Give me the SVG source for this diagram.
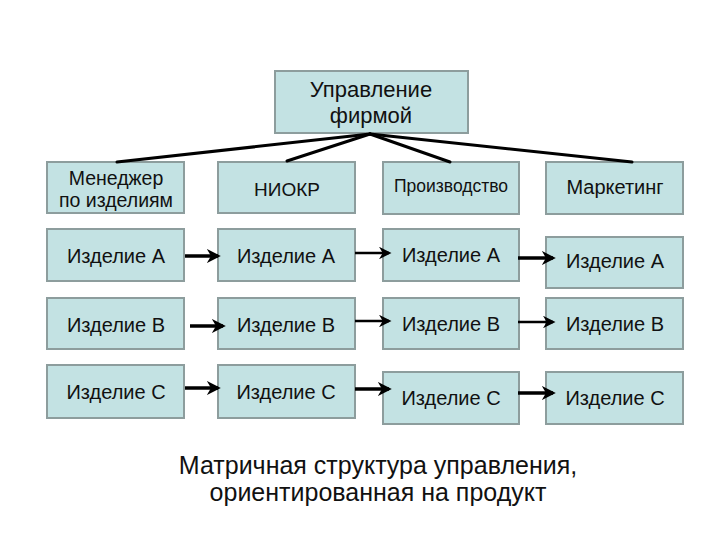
<svg xmlns="http://www.w3.org/2000/svg" width="720" height="540" viewBox="0 0 720 540">
<defs>
<style>
.box{fill:#c3e2e3;stroke:#8d9d9d;stroke-width:2}
.t{font-family:"Liberation Sans",Arial,sans-serif;fill:#111;text-anchor:middle}
.f20{font-size:20px}
.tree{stroke:#000;stroke-width:3;fill:none;stroke-linecap:round}
.ar{stroke:#000;fill:none}
</style>
<marker id="ah" viewBox="0 0 10 10" refX="8" refY="5" markerWidth="4" markerHeight="4" markerUnits="strokeWidth" orient="auto">
<path d="M0,0 L10,5 L0,10 L3,5 Z" fill="#000"/>
</marker>
<marker id="ah2" viewBox="0 0 10 10" refX="8" refY="5" markerWidth="5" markerHeight="5" markerUnits="strokeWidth" orient="auto">
<path d="M0,0 L10,5 L0,10 L3,5 Z" fill="#000"/>
</marker>
</defs>
<rect width="720" height="540" fill="#fff"/>
<g id="top">
<rect class="box" x="275" y="71" width="193" height="62"/>
<text class="t" font-size="22" x="371" y="97">Управление</text>
<text class="t" font-size="22" x="371" y="123">фирмой</text>
</g>
<g id="manager">
<rect class="box" x="47" y="162" width="137" height="51"/>
<text class="t" font-size="19.5" x="116" y="185">Менеджер</text>
<text class="t" font-size="19.5" x="116" y="207">по изделиям</text>
</g>
<g id="niokr">
<rect class="box" x="218" y="162" width="137" height="51"/>
<text class="t" font-size="19" x="287" y="196">НИОКР</text>
</g>
<g id="prod">
<rect class="box" x="383" y="162" width="136" height="52"/>
<text class="t" font-size="17.5" x="451" y="192">Производство</text>
</g>
<g id="mark">
<rect class="box" x="546" y="162" width="137" height="52"/>
<text class="t f20" x="615" y="194">Маркетинг</text>
</g>
<g id="a1"><rect class="box" x="47" y="229" width="137" height="52"/><text class="t f20" x="116" y="263">Изделие А</text></g>
<g id="a2"><rect class="box" x="218" y="229" width="137" height="52"/><text class="t f20" x="286" y="263">Изделие А</text></g>
<g id="a3"><rect class="box" x="383" y="229" width="136" height="52"/><text class="t f20" x="451" y="262">Изделие А</text></g>
<g id="a4"><rect class="box" x="546" y="237" width="137" height="51"/><text class="t f20" x="615" y="268">Изделие А</text></g>
<g id="b1"><rect class="box" x="47" y="298" width="137" height="51"/><text class="t f20" x="116" y="332">Изделие В</text></g>
<g id="b2"><rect class="box" x="218" y="298" width="137" height="51"/><text class="t f20" x="286" y="332">Изделие В</text></g>
<g id="b3"><rect class="box" x="383" y="298" width="136" height="51"/><text class="t f20" x="451" y="331">Изделие В</text></g>
<g id="b4"><rect class="box" x="546" y="298" width="137" height="51"/><text class="t f20" x="615" y="331">Изделие В</text></g>
<g id="c1"><rect class="box" x="47" y="365" width="137" height="53"/><text class="t f20" x="116" y="399">Изделие С</text></g>
<g id="c2"><rect class="box" x="218" y="365" width="137" height="53"/><text class="t f20" x="286" y="399">Изделие С</text></g>
<g id="c3"><rect class="box" x="383" y="372" width="136" height="52"/><text class="t f20" x="451" y="405">Изделие С</text></g>
<g id="c4"><rect class="box" x="546" y="372" width="137" height="52"/><text class="t f20" x="615" y="405">Изделие С</text></g>
<g id="connectors">
<line class="tree" x1="370" y1="134" x2="117" y2="162"/>
<line class="tree" x1="370" y1="134" x2="287" y2="161"/>
<line class="tree" x1="370" y1="134" x2="450" y2="162"/>
<line class="tree" x1="370" y1="134" x2="632" y2="162"/>
<line class="ar" stroke-width="3.5" marker-end="url(#ah)" x1="185" y1="256" x2="218" y2="256"/>
<line class="ar" stroke-width="2.5" marker-end="url(#ah2)" x1="355" y1="253" x2="389" y2="253"/>
<line class="ar" stroke-width="3.5" marker-end="url(#ah)" x1="518" y1="258" x2="553" y2="258"/>
<line class="ar" stroke-width="3.5" marker-end="url(#ah)" x1="190" y1="326" x2="223" y2="326"/>
<line class="ar" stroke-width="2.5" marker-end="url(#ah2)" x1="355" y1="321" x2="389" y2="321"/>
<line class="ar" stroke-width="2.5" marker-end="url(#ah2)" x1="518" y1="322" x2="553" y2="322"/>
<line class="ar" stroke-width="3.5" marker-end="url(#ah)" x1="185" y1="388" x2="218" y2="388"/>
<line class="ar" stroke-width="3.5" marker-end="url(#ah)" x1="355" y1="389" x2="389" y2="389"/>
<line class="ar" stroke-width="3.5" marker-end="url(#ah)" x1="518" y1="393" x2="553" y2="393"/>
</g>
<g id="caption">
<text class="t" font-size="25" x="378" y="474">Матричная структура управления,</text>
<text class="t" font-size="25" x="378" y="501">ориентированная на продукт</text>
</g>
</svg>
